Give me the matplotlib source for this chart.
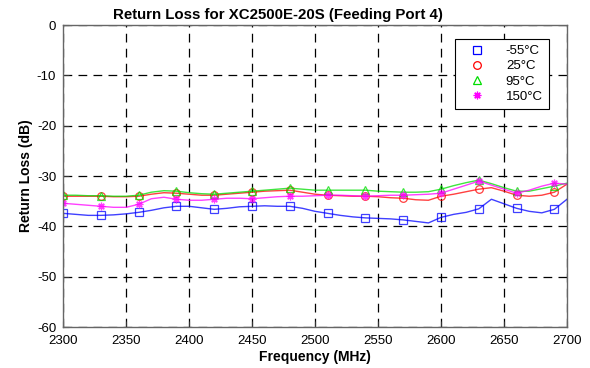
import matplotlib
matplotlib.use("Agg")
import matplotlib.pyplot as plt
from matplotlib.lines import Line2D
import numpy as np

plt.rcParams['font.family'] = ['Liberation Sans', 'DejaVu Sans']
plt.rcParams['axes.unicode_minus'] = False

freq = list(range(2300, 2701, 10))

rl_m55 = [-37.4, -37.6, -37.8, -37.8, -37.7, -37.5, -37.2, -36.8, -36.3, -36.0,
          -36.0, -36.3, -36.6, -36.4, -36.1, -36.0, -35.9, -36.0, -36.0, -36.4,
          -37.0, -37.4, -37.8, -38.1, -38.3, -38.4, -38.5, -38.7, -39.0, -39.3,
          -38.2, -37.6, -37.2, -36.5, -34.6, -35.5, -36.4, -37.0, -37.3, -36.6,
          -34.6]
rl_25 = [-34.0, -34.0, -34.0, -34.0, -34.1, -34.1, -34.0, -33.6, -33.3, -33.4,
         -33.6, -33.8, -33.8, -33.6, -33.4, -33.2, -33.0, -32.9, -32.8, -33.2,
         -33.6, -33.8, -33.9, -34.0, -34.0, -34.1, -34.3, -34.4, -34.7, -34.8,
         -34.0, -33.6, -33.1, -32.6, -32.3, -33.0, -33.8, -34.0, -33.8, -33.2,
         -31.6]
rl_95 = [-33.8, -33.8, -33.9, -33.9, -34.0, -34.0, -33.8, -33.2, -32.9, -33.0,
         -33.3, -33.5, -33.6, -33.4, -33.2, -33.0, -32.8, -32.6, -32.4, -32.6,
         -32.8, -32.8, -32.8, -32.8, -32.8, -33.0, -33.1, -33.2, -33.2, -33.1,
         -32.6, -31.9, -31.3, -30.8, -31.5, -32.3, -33.0, -33.0, -32.5, -32.0,
         -31.4]
rl_150 = [-35.4, -35.6, -35.8, -36.0, -36.2, -36.2, -35.6, -34.5, -34.2, -34.6,
          -34.8, -34.8, -34.6, -34.4, -34.4, -34.5, -34.3, -34.1, -34.0, -34.0,
          -33.9, -33.8, -33.8, -33.9, -34.0, -33.9, -33.8, -33.8, -33.7, -33.6,
          -33.4, -32.6, -31.8, -31.0, -31.8, -32.6, -33.4, -32.8, -32.0, -31.4,
          -31.6]

labels = ['-55°C', '25°C', '95°C', '150°C']
series = [rl_m55, rl_25, rl_95, rl_150]
colors = ['#0000ff', '#ff0000', '#00dd00', '#ff00ff']
markers = ['s', 'o', '^', (8, 2, 0)]

x_ticks = [2300, 2350, 2400, 2450, 2500, 2550, 2600, 2650, 2700]
y_ticks = [0, -10, -20, -30, -40, -50, -60]

fig = plt.figure(figsize=(5.9, 3.68), dpi=100)
ax = fig.add_axes([0.107, 0.111, 0.854, 0.821])

handles = []
for vals, c, m, lab in zip(series, colors, markers, labels):
    ms = 5.5
    ax.plot(freq, vals, color=c, lw=1.0, marker=m, markevery=3, ms=ms,
            mfc='none', mec=c, mew=0.9, alpha=0.75)
    handles.append(Line2D([], [], color=c, linestyle='none', marker=m, ms=ms,
                          mfc='none', mec=c, mew=0.9, label=lab))

ax.set_xlim(2300, 2700)
ax.set_ylim(-60, 0)
ax.set_xticks(x_ticks)
ax.set_yticks(y_ticks)
ax.grid(True, color='black', linestyle=(0, (7, 5)), lw=0.9)
ax.tick_params(direction='in', labelsize=9.5, length=4, color='#333333')
ax.tick_params(axis='x', pad=6)
ax.tick_params(axis='y', pad=5)
for sp in ax.spines.values():
    sp.set_color('#666666')
    sp.set_linewidth(1.0)

ax.set_title('Return Loss for XC2500E-20S (Feeding Port 4)', fontsize=10.8,
             fontweight='bold', pad=4, x=0.427)
ax.set_xlabel('Frequency (MHz)', fontsize=10, fontweight='bold', labelpad=2)
ax.set_ylabel('Return Loss (dB)', fontsize=10, fontweight='bold', labelpad=3)

leg = ax.legend(handles=handles, loc='upper right', bbox_to_anchor=(0.977, 0.975),
                fontsize=9.5, frameon=True, fancybox=False, edgecolor='black',
                framealpha=1, handlelength=2.4, borderpad=0.45, labelspacing=0.22,
                handletextpad=1.0)
leg.get_frame().set_linewidth(0.8)

fig.savefig('out.png', dpi=100, facecolor='white')
